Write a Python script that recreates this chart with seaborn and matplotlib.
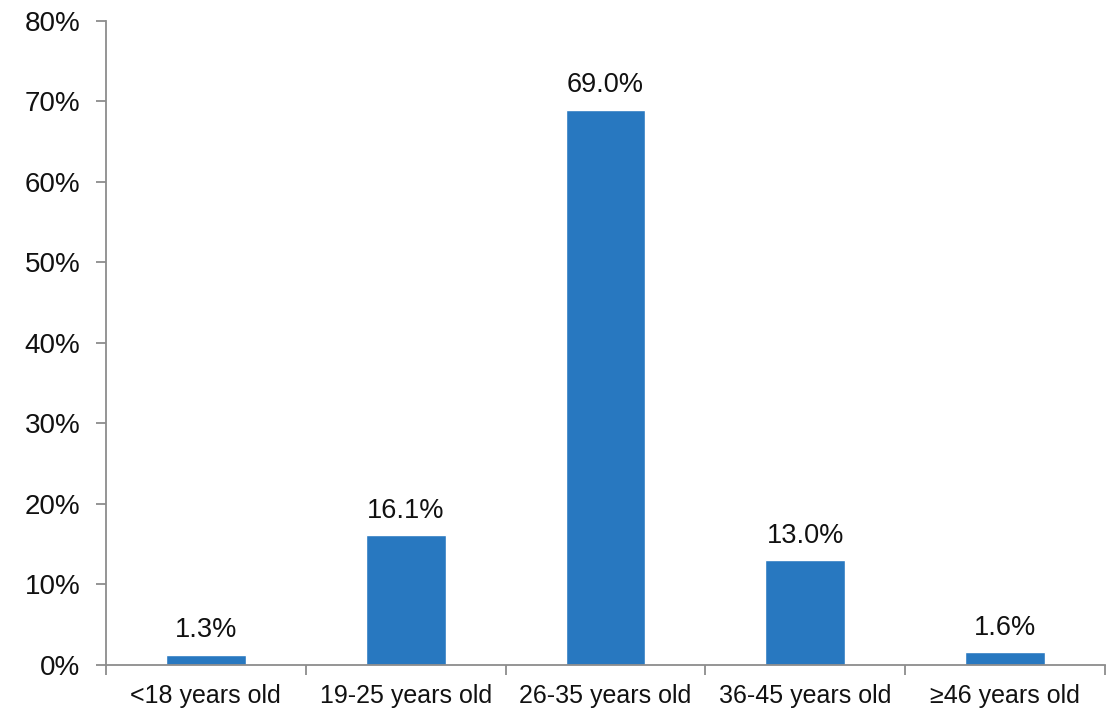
import matplotlib
matplotlib.use("Agg")
import matplotlib.pyplot as plt
import seaborn as sns
import pandas as pd
from matplotlib.ticker import FixedLocator, PercentFormatter

categories = ["<18 years old", "19-25 years old", "26-35 years old", "36-45 years old", "≥46 years old"]
shares = [1.3, 16.1, 69.0, 13.0, 1.6]
y_ticks = [0, 10, 20, 30, 40, 50, 60, 70, 80]

sns.set_style("white")
plt.rcParams["font.family"] = ["Liberation Sans", "DejaVu Sans"]

df = pd.DataFrame({"age": categories, "share": shares})

fig = plt.figure(figsize=(11.13, 7.11), dpi=100)
ax = fig.add_axes([0.0952, 0.0647, 0.8976, 0.9058])

sns.barplot(data=df, x="age", y="share", color="#2878C0", saturation=1,
            width=0.4, ax=ax)

ax.set_ylim(0, 80)
ax.set_xlim(-0.5, len(categories) - 0.5)
ax.yaxis.set_major_locator(FixedLocator(y_ticks))
ax.yaxis.set_major_formatter(PercentFormatter(decimals=0))
ax.set_xlabel("")
ax.set_ylabel("")

spine_color = "#8c8c8c"
for side in ("top", "right"):
    ax.spines[side].set_visible(False)
for side in ("left", "bottom"):
    ax.spines[side].set_color(spine_color)
    ax.spines[side].set_linewidth(1.3)

ax.tick_params(axis="y", direction="out", length=7.5, width=1.3, color=spine_color,
               labelsize=20, pad=11, left=True)
ax.tick_params(axis="x", which="major", length=0, labelsize=18, pad=14)
ax.set_xticks([i - 0.5 for i in range(len(categories) + 1)], minor=True)
ax.tick_params(axis="x", which="minor", direction="out", length=7.5, width=1.3,
               color=spine_color, bottom=True)

for i, v in enumerate(shares):
    ax.annotate(f"{v:.1f}%", (i, v), xytext=(0, 8), textcoords="offset points",
                ha="center", va="bottom", fontsize=19.5, color="#111111")

for lbl in ax.get_xticklabels() + ax.get_yticklabels():
    lbl.set_color("#111111")

fig.savefig("out.png", dpi=100)
